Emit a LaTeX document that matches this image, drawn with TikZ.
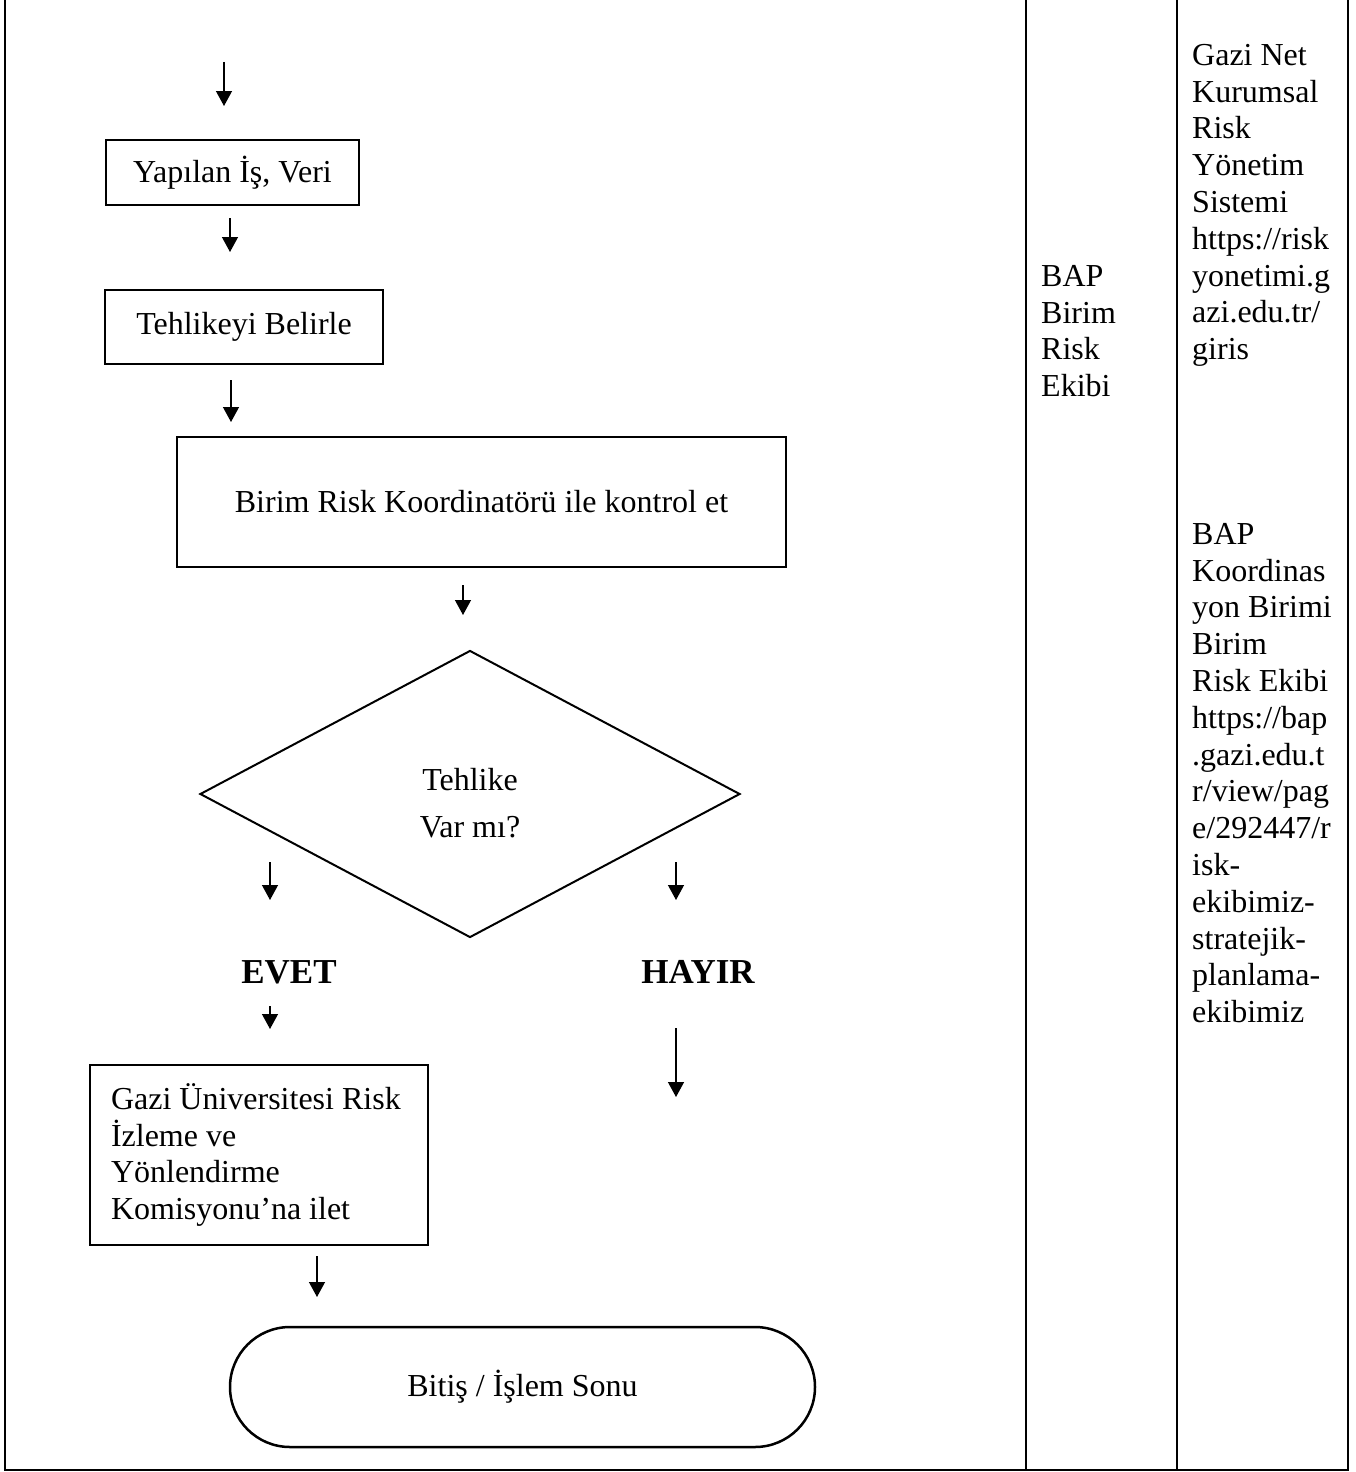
\documentclass[tikz,border=0pt]{standalone}
\usepackage{fontspec}
\setmainfont{Liberation Serif}
\usetikzlibrary{arrows.meta,shapes.geometric}

\begin{document}
\begin{tikzpicture}[x=1pt, y=-1pt,
        every node/.style={font=\fontsize{32}{36.8}\selectfont},
        box/.style={draw, line width=2pt, inner sep=0pt},
        flow/.style={-{Triangle[width=16pt,length=15pt]}, line width=1.3pt},
        frame/.style={line width=2.5pt},
        answer/.style={font=\fontsize{35}{40}\selectfont\bfseries},
        column/.style={anchor=north west, align=left, inner sep=0pt}]
        \useasboundingbox (0,0) rectangle (1355,1472);

        % table
        \draw[frame] (5,0) -- (5,1470) -- (1348,1470) -- (1348,0);
        \draw[frame] (1026,0) -- (1026,1470);
        \draw[frame] (1177,0) -- (1177,1470);

        % flow chart
        \node[box, minimum width=253pt, minimum height=65pt] (veri) at (232.5,172.5)
            {Yapılan İş, Veri};
        \node[box, minimum width=278pt, minimum height=74pt] (belirle) at (244,327)
            {Tehlikeyi Belirle};
        \node[box, minimum width=609pt, minimum height=130pt] (kontrol) at (481.5,502)
            {Birim Risk Koordinatörü ile kontrol et};
        \node[box, diamond, minimum width=540pt, minimum height=287pt,
            label={[name=soru, align=center, yshift=-9pt]center:Tehlike\\[10pt]Var mı?}] (tehlike) at (470,794) {};
        \node[answer] (evet) at (289,972) {EVET};
        \node[answer] (hayir) at (698,972) {HAYIR};
        \node[box, minimum width=338pt, minimum height=180pt, inner xsep=21pt, text width=296pt, align=flush left] (komisyon) at (259,1155)
            {Gazi Üniversitesi Risk\\İzleme ve\\Yönlendirme\\Komisyonu’na ilet};
        \node[box, line width=2.5pt, rounded corners=60pt, minimum width=585pt, minimum height=120pt] (bitis) at (522.5,1387)
            {Bitiş / İşlem Sonu};

        % arrows
        \coordinate (s0) at (224,62);   \coordinate (e0) at (224,106);
        \coordinate (s1) at (230,218);  \coordinate (e1) at (230,252);
        \coordinate (s2) at (231,380);  \coordinate (e2) at (231,422);
        \coordinate (s3) at (463,585);  \coordinate (e3) at (463,615);
        \coordinate (s4) at (270,862);  \coordinate (e4) at (270,900);
        \coordinate (s5) at (676,862);  \coordinate (e5) at (676,900);
        \coordinate (s6) at (270,1006); \coordinate (e6) at (270,1029);
        \coordinate (s7) at (676,1028); \coordinate (e7) at (676,1097);
        \coordinate (s8) at (317,1256); \coordinate (e8) at (317,1297);
        \draw[flow] (s0) -- (e0);
        \draw[flow] (s1) -- (e1);
        \draw[flow] (s2) -- (e2);
        \draw[flow] (s3) -- (e3);
        \draw[flow] (s4) -- (e4);
        \draw[flow] (s5) -- (e5);
        \draw[flow] (s6) -- (e6);
        \draw[flow] (s7) -- (e7);
        \draw[flow] (s8) -- (e8);

        % responsible and source columns
        \node[column] (ekip) at (1041,265)
            {BAP\\Birim\\Risk\\Ekibi};
        \node[column] (sistem) at (1192,44)
            {Gazi Net\\Kurumsal\\Risk\\Yönetim\\Sistemi\\https://risk\\yonetimi.g\\azi.edu.tr/\\giris};
        \node[column] (bapweb) at (1192,523)
            {BAP\\Koordinas\\yon Birimi\\Birim\\Risk Ekibi\\https://bap\\.gazi.edu.t\\r/view/pag\\e/292447/r\\isk-\\ekibimiz-\\stratejik-\\planlama-\\ekibimiz};
\end{tikzpicture}
\end{document}
